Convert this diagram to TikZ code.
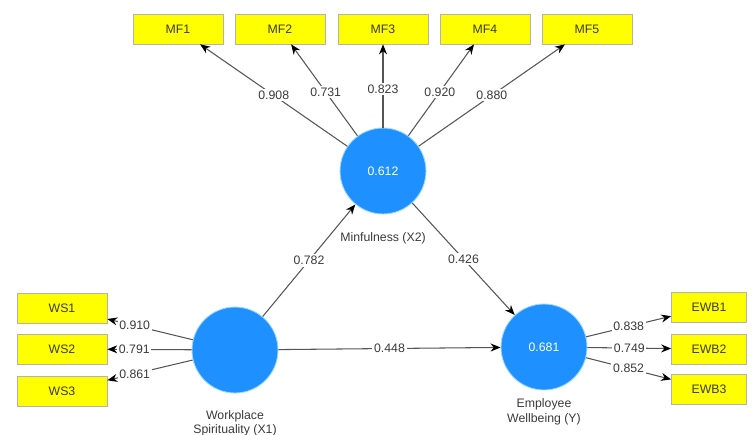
\documentclass[tikz,border=0pt]{standalone}
\usepackage{fontspec}
\setmainfont{Liberation Sans}
\usetikzlibrary{positioning,arrows.meta}
\definecolor{lvBlue}{HTML}{1E90FF}
\definecolor{lvHalo}{HTML}{9FD8FF}
\definecolor{ind}{HTML}{FFFF00}
\definecolor{lnGray}{HTML}{555555}
\definecolor{txGray}{HTML}{3A3A3A}

\begin{document}
\begin{tikzpicture}[x=0.02cm, y=-0.02cm,
  every node/.style={font=\fontsize{7}{8.4}\selectfont, text=txGray},
  lat/.style={circle, fill=lvBlue, draw=lvHalo, line width=0.5pt,
              minimum size=1.72cm, inner sep=0pt, text=white},
  item/.style={rectangle, fill=ind, draw=black!30, line width=0.4pt,
               minimum width=1.8cm, minimum height=0.6cm, inner sep=1pt},
  load/.style={-{Stealth[length=2mm, width=1.6mm, color=black]}, lnGray, line width=0.6pt},
  coef/.style={fill=white, inner sep=1pt}
]
  \useasboundingbox (0,0) rectangle (753,434);

  % latent variables
  \node[lat] (ws)  at (235,350) {};
  \node[lat] (mf)  at (383,171) {0.612};
  \node[lat] (ewb) at (544,347) {0.681};
  \node[below=6pt of ws,  align=center] (wsl)  {Workplace\\Spirituality (X1)};
  \node[below=7pt of mf] (mfl) {Minfulness (X2)};
  \node[below=1pt of ewb, align=center] (ewbl) {Employee\\Wellbeing (Y)};

  % indicators
  \foreach \i/\x in {1/178, 2/280, 3/383, 4/485, 5/587} {
     \node[item] (mf\i) at (\x,29) {MF\i};
  }
  \foreach \i/\y in {1/308, 2/349, 3/391} {
     \node[item] (ws\i) at (62,\y) {WS\i};
  }
  \foreach \i/\y in {1/307, 2/349, 3/389} {
     \node[item, minimum width=1.5cm] (ewb\i) at (709,\y) {EWB\i};
  }

  % outer loadings
  \foreach \i/\v/\p in {1/0.908/0.5, 2/0.731/0.48, 3/0.823/0.46, 4/0.920/0.48, 5/0.880/0.5} {
     \draw[load] (mf) -- (mf\i) node[coef, pos=\p] {\v};
  }
  \foreach \i/\v in {1/0.910, 2/0.791, 3/0.861} {
     \draw[load] (ws) -- (ws\i) node[coef, pos=0.68] {\v};
  }
  \foreach \i/\v in {1/0.838, 2/0.749, 3/0.852} {
     \draw[load] (ewb) -- (ewb\i) node[coef, pos=0.5] {\v};
  }

  % path coefficients
  \draw[load] (ws) -- (mf)  node[coef, midway] {0.782};
  \draw[load] (mf) -- (ewb) node[coef, midway] {0.426};
  \draw[load] (ws) -- (ewb) node[coef, midway] {0.448};
\end{tikzpicture}
\end{document}
